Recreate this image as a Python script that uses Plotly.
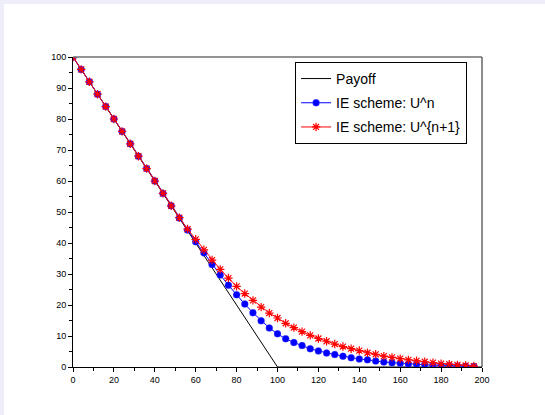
import plotly.graph_objects as go

# ---- data ----
x_grid = [0, 4, 8, 12, 16, 20, 24, 28, 32, 36, 40, 44, 48, 52, 56, 60, 64, 68, 72, 76,
          80, 84, 88, 92, 96, 100, 104, 108, 112, 116, 120, 124, 128, 132, 136, 140, 144, 148, 152, 156,
          160, 164, 168, 172, 176, 180, 184, 188, 192, 196]
u_n = [100, 96, 92, 88, 84, 80, 76, 72, 68, 64, 60, 56, 52.0, 48.1, 44.2, 40.4, 36.8, 33.1, 29.7, 26.4,
       23.3, 20.3, 17.5, 14.9, 12.6, 10.7, 9.1, 7.9, 6.9, 5.9, 5.2, 4.5, 4.0, 3.5, 3.0, 2.6, 2.3, 1.9, 1.6, 1.4,
       1.2, 1.0, 0.9, 0.75, 0.6, 0.5, 0.4, 0.3, 0.25, 0.2]
u_n1 = [100, 96, 92, 88, 84, 80, 76, 72, 68, 64, 60, 56, 52.0, 48.2, 44.5, 41.2, 37.8, 34.5, 31.5, 28.7,
        26.0, 23.7, 21.5, 19.3, 17.4, 15.8, 14.1, 12.7, 11.4, 10.2, 9.2, 8.3, 7.4, 6.6, 5.9, 5.3, 4.6, 4.1, 3.5, 3.1,
        2.7, 2.3, 2.0, 1.7, 1.4, 1.1, 0.9, 0.7, 0.5, 0.3]
payoff_x = [0, 100, 200]
payoff_y = [100, 0, 0]
x_ticks = [0, 20, 40, 60, 80, 100, 120, 140, 160, 180, 200]
y_ticks = [0, 10, 20, 30, 40, 50, 60, 70, 80, 90, 100]

fig = go.Figure()
fig.add_trace(go.Scatter(x=payoff_x, y=payoff_y, mode="lines", name="Payoff",
                         line=dict(color="black", width=1), legendgroup="a"))
fig.add_trace(go.Scatter(x=x_grid, y=u_n, mode="lines+markers", name="IE scheme: U^n",
                         line=dict(color="#0000ff", width=1),
                         marker=dict(symbol="circle", size=7, color="#0000ff",
                                     line=dict(color="rgba(120,120,255,0.6)", width=0.5)),
                         legendgroup="b"))
fig.add_trace(go.Scatter(x=x_grid, y=u_n1, mode="lines+markers", name="IE scheme: U^{n+1}",
                         line=dict(color="#ff0000", width=1),
                         marker=dict(symbol="asterisk-open", size=7, color="#ff0000",
                                     line=dict(color="#ff2020", width=1.2)),
                         legendgroup="c"))

font_family = "Liberation Sans, Arial, sans-serif"

fig.update_layout(
    width=545, height=415,
    margin=dict(l=73, r=63, t=57, b=48, pad=0),
    paper_bgcolor="#eeeefb",
    plot_bgcolor="white",
    font=dict(family=font_family, color="black"),
    showlegend=True,
    legend=dict(x=0.543, y=0.984, xanchor="left", yanchor="top",
                bgcolor="white", bordercolor="black", borderwidth=1,
                font=dict(size=14, family=font_family, color="black"),
                traceorder="grouped", tracegroupgap=3),
    xaxis=dict(range=[0, 200], tickvals=x_ticks, ticks="outside", ticklen=4,
               tickcolor="black", showgrid=False, zeroline=False,
               showline=True, linecolor="black", linewidth=1,
               tickfont=dict(size=9, family=font_family, color="black"),
               minor=dict(dtick=10, ticks="outside", ticklen=3, tickcolor="black")),
    yaxis=dict(range=[0, 100], tickvals=y_ticks, ticks="outside", ticklen=4,
               tickcolor="black", showgrid=False, zeroline=False,
               showline=True, linecolor="black", linewidth=1,
               tickfont=dict(size=9, family=font_family, color="black"),
               minor=dict(dtick=5, ticks="outside", ticklen=3, tickcolor="black")),
    shapes=[
        # white page area inside the lavender frame
        dict(type="rect", xref="paper", yref="paper", xsizemode="pixel", ysizemode="pixel",
             xanchor=0, yanchor=0, x0=-69, x1=472, y0=-48, y1=363,
             fillcolor="white", line=dict(width=0), layer="below"),
        # top and right box lines
        dict(type="line", xref="paper", yref="paper", x0=0, x1=1, y0=1, y1=1,
             line=dict(color="#707070", width=1.5)),
        dict(type="line", xref="paper", yref="paper", x0=1, x1=1, y0=0, y1=1,
             line=dict(color="#404040", width=1.2)),
    ],
)

fig.write_html("out.html", config={"displayModeBar": False},
               post_script="document.body.style.margin='0';document.body.style.overflow='hidden';")
